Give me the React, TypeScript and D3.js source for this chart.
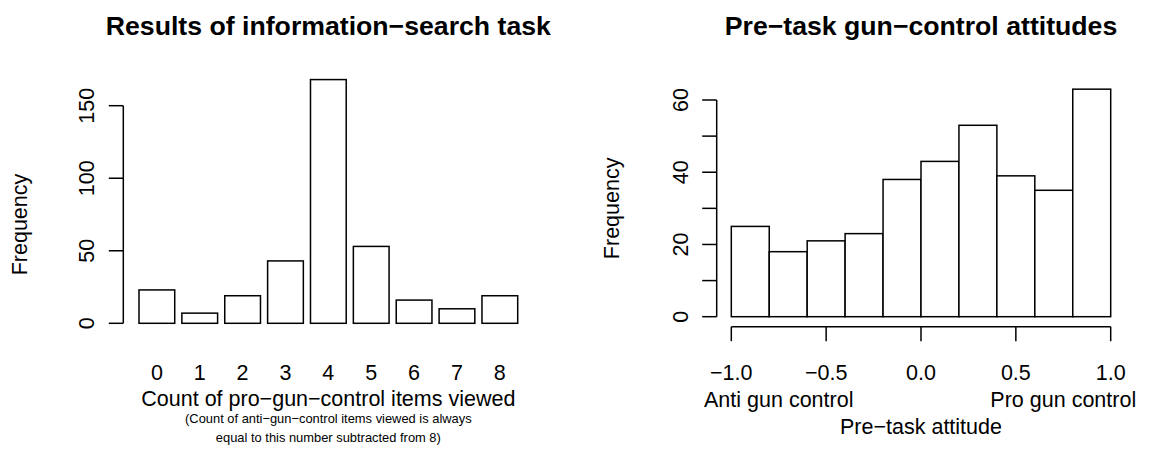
import React from "react";
import * as d3 from "d3";

// left panel: barplot of counts
const itemCounts = ["0", "1", "2", "3", "4", "5", "6", "7", "8"];
const countFreq = [23, 7, 19, 43, 168, 53, 16, 10, 19];
const leftTicks = [0, 50, 100, 150];

// right panel: histogram of attitudes
const binStarts = [-1.0, -0.8, -0.6, -0.4, -0.2, 0.0, 0.2, 0.4, 0.6, 0.8];
const binWidth = 0.2;
const attitudeFreq = [25, 18, 21, 23, 38, 43, 53, 39, 35, 63];
const rightYTicks = [0, 10, 20, 30, 40, 50, 60];
const rightYLabels = [0, 20, 40, 60];
const rightXTicks = [-1, -0.5, 0, 0.5, 1];
const rightXLabels = ["\u22121.0", "\u22120.5", "0.0", "0.5", "1.0"];

const FONT = "'Liberation Sans', Arial, Helvetica, sans-serif";
const BASE = 21.5;

const App = () => {
  const width = 1150;
  const height = 470;

  // left scales (barplot units: bar i spans 0.2+1.2i .. 1.2+1.2i)
  const xL = d3.scaleLinear().domain([0.2, 10.8]).range([139, 517.7]);
  const yL = d3.scaleLinear().domain([0, 150]).range([323.3, 105.7]);
  const leftAxisX = 123.3;
  const leftCenter = (xL(-0.224) + xL(11.224)) / 2;

  // right scales
  const xR = d3.scaleLinear().domain([-1, 1]).range([731.3, 1110.7]);
  const yR = d3.scaleLinear().domain([0, 60]).range([316.7, 100]);
  const rightAxisX = 716.7;
  const rightAxisY = 326.7;
  const rightCenter = (xR(-1.08) + xR(1.08)) / 2;

  const tick = 14.5;
  const stroke = "#000";

  return (
    <svg
      width={width}
      height={height}
      style={{ position: "absolute", left: 0, top: 0, background: "#fff" }}
      fontFamily={FONT}
    >
      <rect width={width} height={height} fill="#fff" />

      {/* ---------- left chart ---------- */}
      <text x={leftCenter} y={35} textAnchor="middle" fontSize={BASE * 1.24} fontWeight="bold">
        Results of information−search task
      </text>
      {countFreq.map((v, i) => (
        <rect
          key={i}
          x={xL(0.2 + 1.2 * i)}
          y={yL(v)}
          width={xL(1.2 + 1.2 * i) - xL(0.2 + 1.2 * i)}
          height={yL(0) - yL(v)}
          fill="#fff"
          stroke={stroke}
          strokeWidth={1.5}
        />
      ))}
      <line x1={leftAxisX} x2={leftAxisX} y1={yL(0)} y2={yL(150)} stroke={stroke} strokeWidth={1.5} />
      {leftTicks.map((t) => (
        <g key={t}>
          <line x1={leftAxisX - tick} x2={leftAxisX} y1={yL(t)} y2={yL(t)} stroke={stroke} strokeWidth={1.5} />
          <text
            transform={`translate(${leftAxisX - 29},${yL(t)}) rotate(-90)`}
            textAnchor="middle"
            fontSize={BASE}
          >
            {t}
          </text>
        </g>
      ))}
      <text
        transform={`translate(${leftAxisX - 96},${(yL(0) + yL(150)) / 2 + 10}) rotate(-90)`}
        textAnchor="middle"
        fontSize={BASE}
      >
        Frequency
      </text>
      {itemCounts.map((c, i) => (
        <text key={c} x={xL(0.7 + 1.2 * i)} y={379.5} textAnchor="middle" fontSize={BASE}>
          {c}
        </text>
      ))}
      <text x={leftCenter} y={406} textAnchor="middle" fontSize={BASE}>
        Count of pro−gun−control items viewed
      </text>
      <text x={leftCenter} y={423} textAnchor="middle" fontSize={BASE * 0.6}>
        (Count of anti−gun−control items viewed is always
      </text>
      <text x={leftCenter} y={442} textAnchor="middle" fontSize={BASE * 0.6}>
        equal to this number subtracted from 8)
      </text>

      {/* ---------- right chart ---------- */}
      <text x={rightCenter} y={35} textAnchor="middle" fontSize={BASE * 1.24} fontWeight="bold">
        Pre−task gun−control attitudes
      </text>
      {attitudeFreq.map((v, i) => (
        <rect
          key={i}
          x={xR(binStarts[i])}
          y={yR(v)}
          width={xR(binStarts[i] + binWidth) - xR(binStarts[i])}
          height={yR(0) - yR(v)}
          fill="#fff"
          stroke={stroke}
          strokeWidth={1.5}
        />
      ))}
      <line x1={rightAxisX} x2={rightAxisX} y1={yR(0)} y2={yR(60)} stroke={stroke} strokeWidth={1.5} />
      {rightYTicks.map((t) => (
        <line key={t} x1={rightAxisX - tick} x2={rightAxisX} y1={yR(t)} y2={yR(t)} stroke={stroke} strokeWidth={1.5} />
      ))}
      {rightYLabels.map((t) => (
        <text
          key={t}
          transform={`translate(${rightAxisX - 29},${yR(t)}) rotate(-90)`}
          textAnchor="middle"
          fontSize={BASE}
        >
          {t}
        </text>
      ))}
      <text
        transform={`translate(${rightAxisX - 98},${(yR(0) + yR(60)) / 2}) rotate(-90)`}
        textAnchor="middle"
        fontSize={BASE}
      >
        Frequency
      </text>
      <line x1={xR(-1)} x2={xR(1)} y1={rightAxisY} y2={rightAxisY} stroke={stroke} strokeWidth={1.5} />
      {rightXTicks.map((t, i) => (
        <g key={t}>
          <line x1={xR(t)} x2={xR(t)} y1={rightAxisY} y2={rightAxisY + tick} stroke={stroke} strokeWidth={1.5} />
          <text x={xR(t)} y={380} textAnchor="middle" fontSize={BASE}>
            {rightXLabels[i]}
          </text>
        </g>
      ))}
      <text x={xR(-0.75)} y={406.5} textAnchor="middle" fontSize={BASE}>
        Anti gun control
      </text>
      <text x={xR(0.75)} y={406.5} textAnchor="middle" fontSize={BASE}>
        Pro gun control
      </text>
      <text x={rightCenter} y={434} textAnchor="middle" fontSize={BASE * 1}>
        Pre−task attitude
      </text>
    </svg>
  );
};

export default App;
